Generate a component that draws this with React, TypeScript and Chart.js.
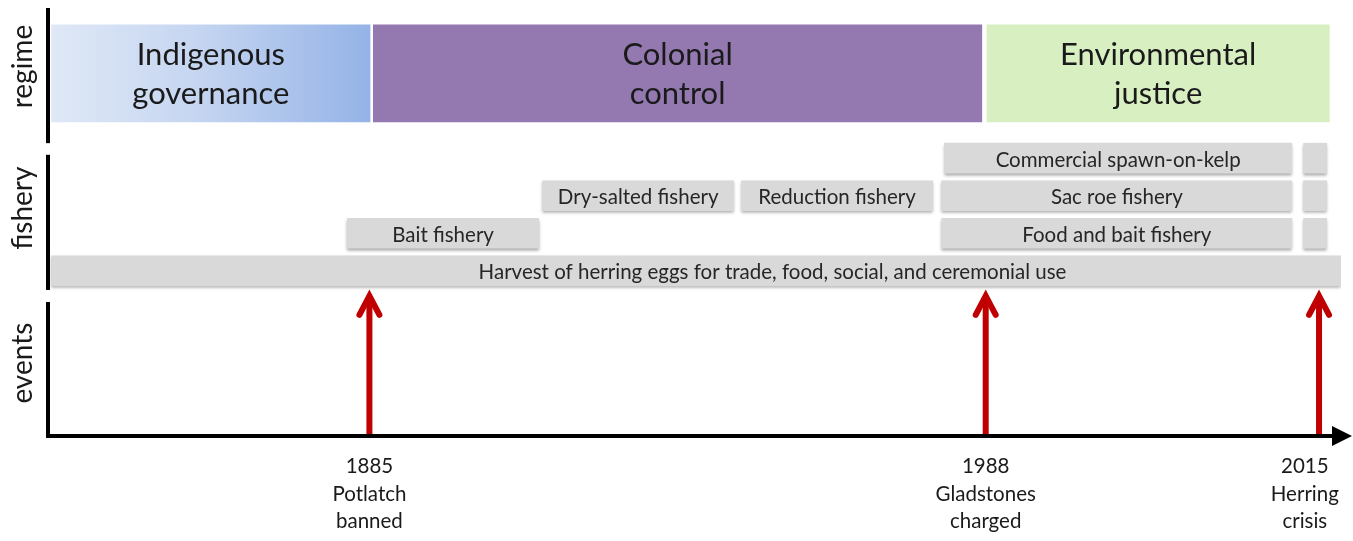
import React, { useEffect, useRef } from 'react';
import { Chart, registerables } from 'chart.js';

Chart.register(...registerables);

const FONT = 'Lato, "Open Sans", sans-serif';

// ---- Regime band (timeline position 0..100) ----
const regimeLabels = [['Indigenous', 'governance'], ['Colonial', 'control'], ['Environmental', 'justice']];
const regimeStart = [0.2, 25.1, 72.6];
const regimeEnd = [24.85, 72.2, 99.1];
const regimeLane = 9.66;
const regimeColors = ['#95b3e7', '#9479b1', '#d8efc2'];

// ---- Fishery bars ----
const fisheryLabels = [
  'Harvest of herring eggs for trade, food, social, and ceremonial use',
  'Bait fishery',
  'Dry-salted fishery',
  'Reduction fishery',
  'Food and bait fishery',
  'Sac roe fishery',
  'Commercial spawn-on-kelp',
  '',
  '',
  '',
];
const fisheryStart = [0.2, 23.1, 38.2, 53.6, 69.1, 69.1, 69.3, 97.1, 97.1, 97.1];
const fisheryEnd = [100, 37.9, 53.0, 68.4, 96.2, 96.2, 96.2, 98.9, 98.9, 98.9];
const fisheryLane = [4.4, 5.4, 6.4, 6.4, 5.4, 6.4, 7.4, 5.4, 6.4, 7.4];
const fisheryLabelAt = [56, null, null, null, null, null, null, null, null, null];

// ---- Events ----
const eventYears = ['1885', '1988', '2015'];
const eventNotes = [['Potlatch', 'banned'], ['Gladstones', 'charged'], ['Herring', 'crisis']];
const eventPos = [24.8, 72.5, 98.3];
const eventLabelPos = [24.8, 72.5, 97.2];
const arrowTip = 3.89;

// ---- Panels (left axis segments) ----
const panelNames = ['events', 'fishery', 'regime'];
const panelFrom = [0, 3.89, 7.8];
const panelTo = [3.57, 7.49, 11.4];
const panelLabelAt = [1.94, 6.07, 9.84];

const timelinePlugin = {
  id: 'timeline',
  beforeDatasetDraw(chart: any, args: any) {
    const ds = chart.data.datasets[args.index];
    if (ds.shadow) {
      const c = chart.ctx;
      c.save();
      c.shadowColor = 'rgba(0,0,0,0.35)';
      c.shadowBlur = 3;
      c.shadowOffsetX = 0;
      c.shadowOffsetY = 2;
    }
  },
  afterDatasetDraw(chart: any, args: any) {
    const ds = chart.data.datasets[args.index];
    if (ds.shadow) chart.ctx.restore();
  },
  afterDatasetsDraw(chart: any) {
    const c = chart.ctx;
    const xs = chart.scales.x;
    const ys = chart.scales.y;
    const area = chart.chartArea;

    // regime text
    const rMeta = chart.getDatasetMeta(0);
    c.save();
    c.fillStyle = '#1a1a1a';
    c.font = `31px ${FONT}`;
    c.textAlign = 'center';
    c.textBaseline = 'alphabetic';
    rMeta.data.forEach((el: any, i: number) => {
      const cx = (el.x + el.base) / 2;
      const cy = el.y;
      c.fillText(regimeLabels[i][0], cx, cy - 8.5);
      c.fillText(regimeLabels[i][1], cx, cy + 31);
    });
    c.restore();

    // fishery text
    const fMeta = chart.getDatasetMeta(1);
    c.save();
    c.fillStyle = '#262626';
    c.font = `20.5px ${FONT}`;
    c.textAlign = 'center';
    c.textBaseline = 'alphabetic';
    fMeta.data.forEach((el: any, i: number) => {
      const lbl = fisheryLabels[i];
      if (!lbl) return;
      const at = fisheryLabelAt[i];
      const cx = at != null ? xs.getPixelForValue(at) : (el.x + el.base) / 2;
      c.fillText(lbl, cx, el.y + 8.5);
    });
    c.restore();

    // panel axis segments + labels
    c.save();
    c.strokeStyle = '#000';
    c.lineWidth = 4;
    c.lineCap = 'butt';
    panelNames.forEach((name, i) => {
      const yA = ys.getPixelForValue(panelFrom[i]) + (i === 0 ? 2 : 0);
      const yB = ys.getPixelForValue(panelTo[i]);
      c.beginPath();
      c.moveTo(area.left - 1, yA);
      c.lineTo(area.left - 1, yB);
      c.stroke();
      c.save();
      c.translate(23, ys.getPixelForValue(panelLabelAt[i]));
      c.rotate(-Math.PI / 2);
      c.fillStyle = '#1a1a1a';
      c.font = `28px ${FONT}`;
      c.textAlign = 'center';
      c.textBaseline = 'middle';
      c.fillText(name, 0, 0);
      c.restore();
    });
    c.restore();

    // axis arrow head
    c.save();
    c.fillStyle = '#000';
    const ay = ys.getPixelForValue(0);
    c.beginPath();
    c.moveTo(area.right - 9, ay - 10);
    c.lineTo(area.right + 11, ay);
    c.lineTo(area.right - 9, ay + 10);
    c.closePath();
    c.fill();
    c.restore();

    // event arrows
    c.save();
    c.strokeStyle = '#c00000';
    c.lineWidth = 6;
    eventPos.forEach((p) => {
      const px = xs.getPixelForValue(p);
      const y0 = ys.getPixelForValue(0) - 2;
      const y1 = ys.getPixelForValue(arrowTip);
      c.lineCap = 'butt';
      c.beginPath();
      c.moveTo(px, y0);
      c.lineTo(px, y1 + 6);
      c.stroke();
      c.lineCap = 'round';
      c.lineJoin = 'miter';
      c.beginPath();
      c.moveTo(px - 10, y1 + 25);
      c.lineTo(px, y1 + 6);
      c.lineTo(px + 10, y1 + 25);
      c.stroke();
    });
    c.restore();
  },
};

export default function App() {
  const ref = useRef<HTMLCanvasElement | null>(null);
  useEffect(() => {
    document.body.style.margin = '0';
    const canvas = ref.current;
    if (!canvas) return;
    const chart = new Chart(canvas, {
      type: 'bar',
      data: {
        datasets: [
          {
            label: 'regime',
            data: regimeStart.map((s, i) => ({ x: [s, regimeEnd[i]], y: regimeLane })) as any,
            backgroundColor: (ctx: any) => {
              const i = ctx.dataIndex;
              if (i === 0) {
                const xs = ctx.chart.scales.x;
                if (xs) {
                  const a = xs.getPixelForValue(regimeStart[0]);
                  const b = xs.getPixelForValue(regimeEnd[0]);
                  if (isFinite(a) && isFinite(b) && b > a) {
                    const g = ctx.chart.ctx.createLinearGradient(a, 0, b, 0);
                    g.addColorStop(0, '#dfe8f6');
                    g.addColorStop(0.45, '#c6d6f1');
                    g.addColorStop(1, '#95b3e7');
                    return g;
                  }
                }
              }
              return regimeColors[i] ?? regimeColors[0];
            },
            barThickness: 97,
            grouped: false,
            borderWidth: 0,
          } as any,
          {
            label: 'fishery',
            data: fisheryStart.map((s, i) => ({ x: [s, fisheryEnd[i]], y: fisheryLane[i] })) as any,
            backgroundColor: '#d9d9d9',
            barThickness: 30,
            grouped: false,
            borderWidth: 0,
            shadow: true,
          } as any,
        ],
      },
      options: {
        indexAxis: 'y',
        animation: false,
        responsive: false,
        maintainAspectRatio: false,
        events: [],
        layout: { padding: { left: 49, right: 12, top: 8, bottom: 0 } },
        plugins: { legend: { display: false }, tooltip: { enabled: false } },
        scales: {
          x: {
            type: 'linear',
            min: 0,
            max: 100,
            offset: false,
            position: 'bottom',
            grid: { display: false, drawTicks: false },
            border: { display: true, color: '#000', width: 4 },
            afterBuildTicks: (s: any) => {
              s.ticks = eventLabelPos.map((v) => ({ value: v }));
            },
            afterFit: (s: any) => {
              s.height = 105;
              s.paddingLeft = 0;
              s.paddingRight = 0;
            },
            ticks: {
              autoSkip: false,
              maxRotation: 0,
              minRotation: 0,
              padding: 17,
              color: '#1a1a1a',
              font: { family: FONT, size: 20.5, lineHeight: 1.33 },
              callback: (_v: any, i: number) => [eventYears[i], ...eventNotes[i]],
            },
          },
          y: { type: 'linear', min: 0, max: 11.4, offset: false, display: false },
        },
      } as any,
      plugins: [timelinePlugin as any],
    });
    return () => chart.destroy();
  }, []);
  return <canvas ref={ref} width={1353} height={541} style={{ display: 'block' }} />;
}
